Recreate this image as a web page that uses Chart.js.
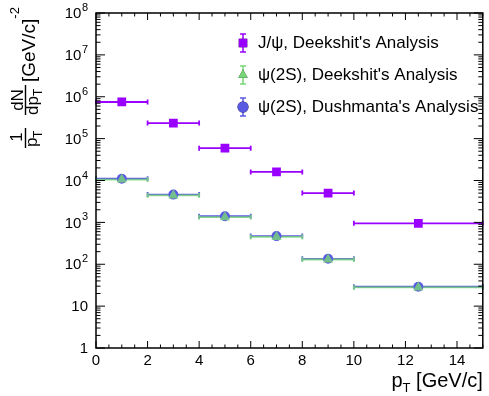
<!DOCTYPE html>
<html>
<head>
<meta charset="utf-8">
<script src="https://cdn.jsdelivr.net/npm/chart.js@4.4.0/dist/chart.umd.min.js"></script>
<style>
  html, body { margin: 0; padding: 0; background: #fff; }
  #wrap { width: 489px; height: 396px; }
</style>
</head>
<body>
<div id="wrap"><canvas id="chart" width="489" height="396"></canvas></div>
<script>
// pT bins [GeV/c]
const binCenters = [1, 3, 5, 7, 9, 12.5];
const binLow = [0, 2, 4, 6, 8, 10];
const binHigh = [2, 4, 6, 8, 10, 15];

// 1/pT dN/dpT [GeV/c]^-2
const jpsiDeekshit = [7.5e5, 2.35e5, 5.9e4, 1.6e4, 5.0e3, 9.5e2];
const psi2sDeekshit = [1.05e4, 4.4e3, 1.33e3, 4.5e2, 1.3e2, 28];
const psi2sDushmanta = [1.1e4, 4.6e3, 1.4e3, 4.7e2, 1.35e2, 29];

const seriesNames = [
  "J/\u03C8, Deekshit's Analysis",
  "\u03C8(2S), Deekshit's Analysis",
  "\u03C8(2S), Dushmanta's Analysis"
];

// axis ticks
const xTickValues = [0, 2, 4, 6, 8, 10, 12, 14];
const yTickExponents = [0, 1, 2, 3, 4, 5, 6, 7, 8];

const FONT = "'Liberation Sans', Arial, Helvetica, sans-serif";
const PURPLE = "#9a00ff";
const GREEN = "rgba(120, 215, 120, 0.8)";
const BLUE = "#5a5ae0";

function toPoints(vals) {
  return binCenters.map((x, i) => ({ x: x, y: vals[i] }));
}

// horizontal bin-width error bars, drawn under the markers
const errorBars = {
  id: "errorBars",
  beforeDatasetsDraw(chart) {
    const ctx = chart.ctx;
    const xs = chart.scales.x, ys = chart.scales.y;
    const sets = [
      { vals: psi2sDushmanta, color: BLUE },
      { vals: psi2sDeekshit, color: GREEN },
      { vals: jpsiDeekshit, color: PURPLE }
    ];
    ctx.save();
    ctx.lineWidth = 1.8;
    sets.forEach(s => {
      ctx.strokeStyle = s.color;
      s.vals.forEach((v, i) => {
        const y = ys.getPixelForValue(v);
        const x1 = xs.getPixelForValue(binLow[i]);
        const x2 = Math.min(xs.getPixelForValue(binHigh[i]), chart.chartArea.right);
        ctx.beginPath();
        ctx.moveTo(x1, y); ctx.lineTo(x2, y);
        ctx.moveTo(x1, y - 2.5); ctx.lineTo(x1, y + 2.5);
        ctx.moveTo(x2, y - 2.5); ctx.lineTo(x2, y + 2.5);
        ctx.stroke();
      });
    });
    ctx.restore();
  }
};

// ROOT-style frame, inward ticks, y labels with exponents, titles, legend
const decorations = {
  id: "decorations",
  afterDraw(chart) {
    const ctx = chart.ctx;
    const { left, right, top, bottom } = chart.chartArea;
    const xs = chart.scales.x, ys = chart.scales.y;
    ctx.save();
    ctx.strokeStyle = "#000";
    ctx.lineWidth = 1.5;
    ctx.strokeRect(left, top, right - left, bottom - top);

    ctx.lineWidth = 1;
    ctx.beginPath();
    // y ticks (log)
    yTickExponents.forEach(e => {
      const yp = ys.getPixelForValue(Math.pow(10, e));
      ctx.moveTo(left, yp); ctx.lineTo(left + 9, yp);
      ctx.moveTo(right, yp); ctx.lineTo(right - 9, yp);
      if (e < 8) {
        for (let m = 2; m <= 9; m++) {
          const ym = ys.getPixelForValue(m * Math.pow(10, e));
          ctx.moveTo(left, ym); ctx.lineTo(left + 4.5, ym);
          ctx.moveTo(right, ym); ctx.lineTo(right - 4.5, ym);
        }
      }
    });
    // x ticks
    for (let v = 0; v <= 15; v += 0.5) {
      const xp = xs.getPixelForValue(v);
      const len = (v % 2 === 0) ? 7 : 3.5;
      ctx.moveTo(xp, bottom); ctx.lineTo(xp, bottom - len);
      ctx.moveTo(xp, top); ctx.lineTo(xp, top + len);
    }
    ctx.stroke();

    // y tick labels: 1, 10, 10^2 ...
    ctx.fillStyle = "#000";
    ctx.textBaseline = "middle";
    yTickExponents.forEach(e => {
      const yp = ys.getPixelForValue(Math.pow(10, e));
      const rx = left - 8;
      if (e === 0 || e === 1) {
        ctx.font = "15px " + FONT;
        ctx.textAlign = "right";
        ctx.fillText(e === 0 ? "1" : "10", rx, yp + 1);
      } else {
        ctx.font = "11px " + FONT;
        ctx.textAlign = "right";
        const ew = ctx.measureText(String(e)).width;
        ctx.fillText(String(e), rx, yp - 5);
        ctx.font = "15px " + FONT;
        ctx.fillText("10", rx - ew - 0.5, yp + 1);
      }
    });

    // x title: p_T [GeV/c]
    ctx.textBaseline = "alphabetic";
    ctx.textAlign = "left";
    ctx.font = "20px " + FONT;
    const rest = " [GeV/c]";
    const wRest = ctx.measureText(rest).width;
    const wP = ctx.measureText("p").width;
    ctx.font = "13px " + FONT;
    const wT = ctx.measureText("T").width;
    let xt = right - wRest - wT - wP;
    ctx.font = "20px " + FONT;
    ctx.fillText("p", xt, 387);
    ctx.font = "13px " + FONT;
    ctx.fillText("T", xt + wP, 392);
    ctx.font = "20px " + FONT;
    ctx.fillText(rest, xt + wP + wT, 387);

    // y title, rotated: (1/pT)(dN/dpT) [GeV/c]^-2
    ctx.translate(0, 148);
    ctx.rotate(-Math.PI / 2);
    // u runs up the page, v runs to the right
    ctx.lineWidth = 1.4;
    ctx.beginPath();
    ctx.moveTo(0, 25.5); ctx.lineTo(20, 25.5);
    ctx.moveTo(33, 25.5); ctx.lineTo(63, 25.5);
    ctx.stroke();
    ctx.textAlign = "center";
    ctx.font = "17px " + FONT;
    ctx.fillText("1", 11, 22);
    ctx.fillText("dN", 48, 23);
    ctx.textAlign = "left";
    ctx.fillText("p", 1, 37);
    ctx.fillText("dp", 33, 38);
    ctx.font = "12px " + FONT;
    ctx.fillText("T", 10, 42);
    ctx.fillText("T", 52, 42);
    ctx.font = "19px " + FONT;
    ctx.fillText("[GeV/c]", 66, 35);
    const wb = ctx.measureText("[GeV/c]").width;
    ctx.font = "13px " + FONT;
    ctx.fillText("-2", 66 + wb, 19);
    ctx.restore();

    // legend
    ctx.save();
    const legendRows = [
      { y: 43, color: PURPLE, style: "rect" },
      { y: 75, color: "rgb(120, 215, 120)", style: "triangle" },
      { y: 107, color: BLUE, style: "circle" }
    ];
    legendRows.forEach((r, i) => {
      const mx = 243;
      ctx.strokeStyle = r.color;
      ctx.lineWidth = 1.5;
      ctx.beginPath();
      ctx.moveTo(mx, r.y - 9); ctx.lineTo(mx, r.y + 9);
      ctx.moveTo(mx - 3, r.y - 9); ctx.lineTo(mx + 3, r.y - 9);
      ctx.moveTo(mx - 3, r.y + 9); ctx.lineTo(mx + 3, r.y + 9);
      ctx.stroke();
      Chart.helpers.drawPoint(ctx, {
        pointStyle: r.style, radius: r.style === "rect" ? 6 : 5.5,
        borderWidth: 0
      }, mx, r.y);
      ctx.fillStyle = r.color;
      ctx.fill();
      ctx.fillStyle = "#000";
      ctx.font = "17px " + FONT;
      ctx.textAlign = "left";
      ctx.textBaseline = "middle";
      ctx.fillText(seriesNames[i], 258, r.y);
    });
    ctx.restore();
  }
};

new Chart(document.getElementById("chart"), {
  type: "scatter",
  data: {
    datasets: [
      {
        label: seriesNames[0],
        data: toPoints(jpsiDeekshit),
        pointStyle: "rect",
        pointRadius: 6.2,
        backgroundColor: PURPLE,
        borderColor: PURPLE,
        borderWidth: 0,
        order: 0
      },
      {
        label: seriesNames[1],
        data: toPoints(psi2sDeekshit),
        pointStyle: "triangle",
        pointRadius: 6,
        backgroundColor: GREEN,
        borderColor: GREEN,
        borderWidth: 0,
        order: 1
      },
      {
        label: seriesNames[2],
        data: toPoints(psi2sDushmanta),
        pointStyle: "circle",
        pointRadius: 5,
        backgroundColor: BLUE,
        borderColor: BLUE,
        borderWidth: 0,
        order: 2
      }
    ]
  },
  options: {
    responsive: false,
    animation: false,
    events: [],
    layout: { padding: { top: 13, right: 3, left: 0, bottom: 0 } },
    plugins: {
      legend: { display: false },
      tooltip: { enabled: false }
    },
    scales: {
      x: {
        type: "linear",
        min: 0,
        max: 15,
        afterBuildTicks: s => { s.ticks = xTickValues.map(v => ({ value: v })); },
        afterFit: s => { s.height = 48; },
        grid: { display: false, drawTicks: false },
        border: { display: false },
        ticks: {
          padding: 4,
          color: "#000",
          font: { family: FONT, size: 15 },
          maxRotation: 0
        }
      },
      y: {
        type: "logarithmic",
        min: 1,
        max: 1e8,
        afterBuildTicks: s => { s.ticks = yTickExponents.map(e => ({ value: Math.pow(10, e) })); },
        afterFit: s => { s.width = 96; },
        grid: { display: false, drawTicks: false },
        border: { display: false },
        ticks: { display: false }
      }
    }
  },
  plugins: [errorBars, decorations]
});
</script>
</body>
</html>
